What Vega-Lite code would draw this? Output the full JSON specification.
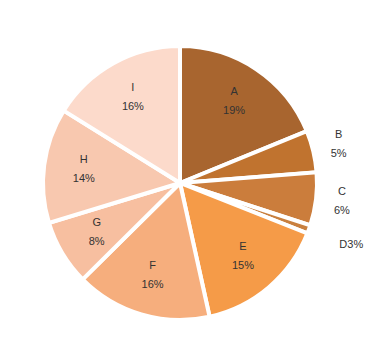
{
  "$schema": "https://vega.github.io/schema/vega-lite/v6.json",
  "width": 360,
  "height": 342,
  "autosize": "none",
  "padding": {"left": 0, "top": 12, "right": 25, "bottom": 0},
  "background": "white",
  "data": {
    "values": [
      {"cat": "A", "value": 19, "pct": "19%"},
      {"cat": "B", "value": 5, "pct": "5%"},
      {"cat": "C", "value": 6.3, "pct": "6%"},
      {"cat": "D", "value": 1, "pct": "3%"},
      {"cat": "E", "value": 15.7, "pct": "15%"},
      {"cat": "F", "value": 16.2, "pct": "16%"},
      {"cat": "G", "value": 7.8, "pct": "8%"},
      {"cat": "H", "value": 13.7, "pct": "14%"},
      {"cat": "I", "value": 16.3, "pct": "16%"}
    ]
  },
  "encoding": {
    "theta": {"field": "value", "type": "quantitative", "stack": true},
    "order": {"field": "cat", "type": "nominal", "sort": "ascending"}
  },
  "layer": [
    {
      "mark": {"type": "arc", "radius": 137, "stroke": "white", "strokeWidth": 4},
      "encoding": {
        "color": {
          "field": "cat",
          "type": "nominal",
          "scale": {
            "domain": ["A", "B", "C", "D", "E", "F", "G", "H", "I"],
            "range": ["#A8652F", "#C0732F", "#CB7D3C", "#C9803F", "#F59B48", "#F6AE7D", "#F7BFA0", "#F8C8AF", "#FCDACB"]
          },
          "legend": null
        }
      }
    },
    {
      "mark": {"type": "text", "radius": 97, "dy": -10, "font": "Liberation Sans", "fontSize": 11, "fill": "#333333"},
      "encoding": {
        "text": {"condition": {"test": "indexof(['B','C','D'], datum.cat) < 0", "field": "cat"}, "value": ""}
      }
    },
    {
      "mark": {"type": "text", "radius": 97, "dy": 9, "font": "Liberation Sans", "fontSize": 11, "fill": "#333333"},
      "encoding": {
        "text": {"condition": {"test": "indexof(['B','C','D'], datum.cat) < 0", "field": "pct"}, "value": ""}
      }
    },
    {
      "mark": {"type": "text", "radius": 163, "dy": -10, "font": "Liberation Sans", "fontSize": 11, "fill": "#333333"},
      "encoding": {
        "text": {"condition": {"test": "datum.cat == 'B' || datum.cat == 'C'", "field": "cat"}, "value": ""}
      }
    },
    {
      "mark": {"type": "text", "radius": 163, "dy": 9, "font": "Liberation Sans", "fontSize": 11, "fill": "#333333"},
      "encoding": {
        "text": {"condition": {"test": "datum.cat == 'B' || datum.cat == 'C'", "field": "pct"}, "value": ""}
      }
    },
    {
      "transform": [{"calculate": "datum.cat + datum.pct", "as": "dlabel"}],
      "mark": {"type": "text", "radius": 182, "font": "Liberation Sans", "fontSize": 11, "fill": "#333333"},
      "encoding": {
        "text": {"condition": {"test": "datum.cat == 'D'", "field": "dlabel"}, "value": ""}
      }
    }
  ]
}
